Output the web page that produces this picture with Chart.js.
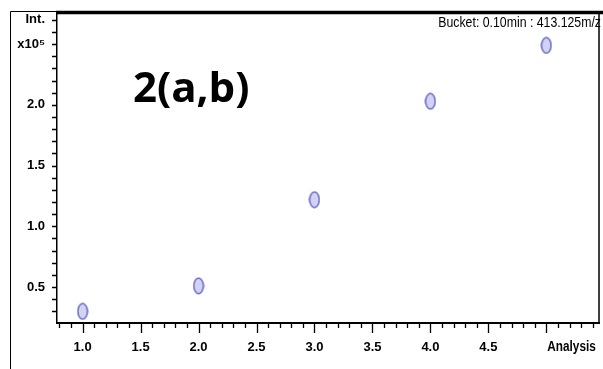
<!DOCTYPE html>
<html>
<head>
<meta charset="utf-8">
<script src="https://cdn.jsdelivr.net/npm/chart.js@4/dist/chart.umd.min.js"></script>
<style>
html,body{margin:0;padding:0;background:#fff;overflow:hidden;}
#wrap{width:603px;height:369px;position:relative;overflow:hidden;}
</style>
</head>
<body>
<div id="wrap"><canvas id="c" width="606" height="369"></canvas></div>
<script>
// ---- data ----
const analyses = [1, 2, 3, 4, 5];
const intensities = [0.30, 0.51, 1.22, 2.03, 2.49]; // x10^5
const xTickLabels = ['1.0', '1.5', '2.0', '2.5', '3.0', '3.5', '4.0', '4.5'];
const yTickLabels = ['0.5', '1.0', '1.5', '2.0'];
const xAxisTitle = 'Analysis';
const yAxisTitle = 'Int.';
const yExponent = 'x10\u2075';
const headerText = 'Bucket: 0.10min : 413.125m/z';
const panelLabel = '2(a,b)';

const sans = "'Liberation Sans', Arial, sans-serif";

// marker: light lavender ellipse with blue outline
function makeMarker() {
  const cv = document.createElement('canvas');
  cv.width = 12; cv.height = 18;
  const g = cv.getContext('2d');
  g.beginPath();
  g.ellipse(6, 9, 4.8, 7.8, 0, 0, Math.PI * 2);
  g.fillStyle = '#d2d2f2';
  g.fill();
  g.lineWidth = 1.3;
  g.strokeStyle = '#5252c2';
  g.stroke();
  return cv;
}

const near = (v, t) => Math.abs(v - t) < 1e-6;
const isTenth = v => Math.abs(v * 10 - Math.round(v * 10)) < 1e-6;
const isHalf = v => Math.abs(v * 2 - Math.round(v * 2)) < 1e-6;

function narrowText(ctx, text, x, y, sx, align) {
  ctx.save();
  ctx.translate(x, y);
  ctx.scale(sx, 1);
  ctx.textAlign = align;
  ctx.fillText(text, 0, 0);
  ctx.restore();
}

const decor = {
  id: 'decor',
  afterDraw(chart) {
    const ctx = chart.ctx;
    const a = chart.chartArea;
    const xs = chart.scales.x, ys = chart.scales.y;
    ctx.save();
    ctx.strokeStyle = '#000';
    // outer thin frame
    ctx.lineWidth = 1;
    ctx.beginPath();
    ctx.moveTo(10.5, 369); ctx.lineTo(10.5, 11.5); ctx.lineTo(a.left, 11.5);
    ctx.stroke();
    // thick top rule
    ctx.lineWidth = 3.5;
    ctx.beginPath();
    ctx.moveTo(a.left - 1, 12.5); ctx.lineTo(606, 12.5);
    ctx.stroke();
    // right border
    ctx.lineWidth = 1.5;
    ctx.beginPath();
    ctx.moveTo(a.right, 12); ctx.lineTo(a.right, a.bottom);
    ctx.stroke();
    // axis tick marks
    ctx.lineWidth = 1.3;
    ctx.beginPath();
    xs.ticks.forEach(t => {
      if (!isTenth(t.value)) return;
      const px = Math.round(xs.getPixelForValue(t.value)) + 0.5;
      if (px <= a.left + 1 || px >= a.right - 1) return;
      const len = isHalf(t.value) ? 10 : 5;
      ctx.moveTo(px, a.bottom); ctx.lineTo(px, a.bottom + len);
    });
    ys.ticks.forEach(t => {
      if (!isTenth(t.value)) return;
      const py = Math.round(ys.getPixelForValue(t.value)) + 0.5;
      if (py <= a.top + 1 || py >= a.bottom - 1) return;
      ctx.moveTo(a.left, py); ctx.lineTo(a.left - 5, py);
    });
    ctx.stroke();
    ctx.fillStyle = '#000';
    // x-axis title at the 5.0 slot
    ctx.font = 'bold 14px ' + sans;
    ctx.textBaseline = 'middle';
    narrowText(ctx, xAxisTitle, xs.getPixelForValue(5.0) + 1, 347, 0.84, 'left');
    // header
    ctx.font = '15px ' + sans;
    ctx.textBaseline = 'alphabetic';
    narrowText(ctx, headerText, 601, 27, 0.82, 'right');
    // panel label
    ctx.font = "bold 42px 'Open Sans', Lato, sans-serif";
    ctx.textAlign = 'left';
    ctx.fillText(panelLabel, 133, 102);
    ctx.restore();
  }
};

new Chart(document.getElementById('c'), {
  type: 'scatter',
  data: {
    datasets: [{
      data: analyses.map((x, i) => ({ x: x, y: intensities[i] })),
      pointStyle: makeMarker(),
      pointRadius: 6,
      pointHoverRadius: 6
    }]
  },
  options: {
    responsive: false,
    animation: false,
    events: [],
    layout: { padding: { left: 0, right: 0, top: 13, bottom: 0 } },
    plugins: { legend: { display: false }, tooltip: { enabled: false } },
    scales: {
      x: {
        type: 'linear',
        min: 0.779, max: 5.454,
        grid: { display: false },
        border: { display: true, color: '#000', width: 2 },
        afterFit(s) { s.height = 46; s.paddingLeft = 0; s.paddingRight = 0; },
        ticks: {
          stepSize: 0.1,
          includeBounds: false,
          autoSkip: false,
          maxRotation: 0,
          padding: 9,
          color: '#000',
          font: { family: sans, size: 13, weight: 'bold' },
          callback(v) {
            const lbl = xTickLabels.find(l => near(parseFloat(l), v));
            return lbl || '';
          }
        }
      },
      y: {
        type: 'linear',
        min: 0.204, max: 2.757,
        grid: { display: false },
        border: { display: true, color: '#000', width: 1.5 },
        afterFit(s) { s.width = 57; s.paddingTop = 0; s.paddingBottom = 0; },
        ticks: {
          stepSize: 0.1,
          includeBounds: false,
          autoSkip: false,
          padding: 4,
          color: '#000',
          font: { family: sans, size: 13, weight: 'bold' },
          callback(v) {
            const lbl = yTickLabels.find(l => near(parseFloat(l), v));
            if (lbl) return lbl;
            if (near(v, 2.5)) return yExponent;
            if (near(v, 2.7)) return yAxisTitle;
            return '';
          }
        }
      }
    }
  },
  plugins: [decor]
});
</script>
</body>
</html>
